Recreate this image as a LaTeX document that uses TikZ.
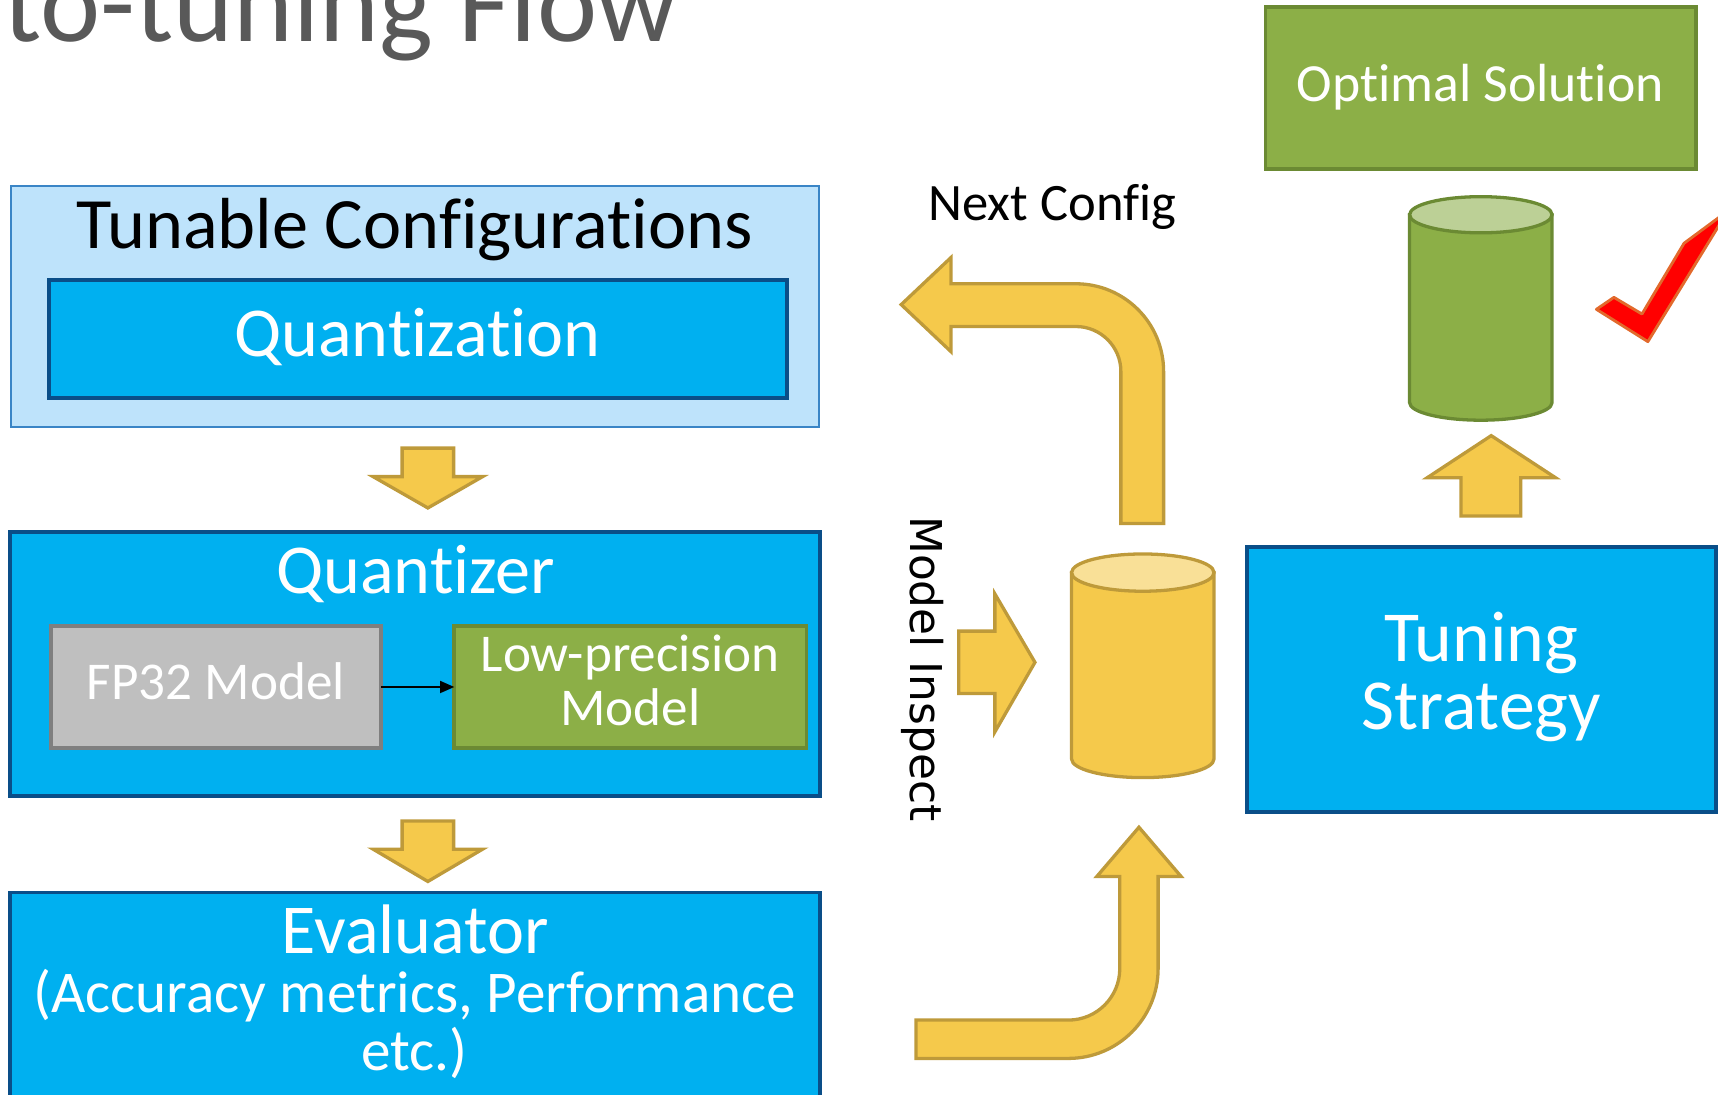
\documentclass[tikz,border=0pt]{standalone}
\usepackage{fontspec}
\setmainfont{Carlito}[Ligatures=NoCommon]
\newfontfamily\inspectfont{DejaVu Sans}
\usetikzlibrary{arrows.meta}

\definecolor{paleblue}{HTML}{BEE3FB}
\definecolor{paleedge}{HTML}{3A85C6}
\definecolor{cyanfill}{HTML}{00B0F0}
\definecolor{navyedge}{HTML}{0A4E88}
\definecolor{goldfill}{HTML}{F5C94B}
\definecolor{goldedge}{HTML}{BE9A3A}
\definecolor{goldtop}{HTML}{F9E097}
\definecolor{leaffill}{HTML}{8CAF47}
\definecolor{leafedge}{HTML}{6B8A33}
\definecolor{leaftop}{HTML}{BCD096}
\definecolor{greyfill}{HTML}{BFBFBF}
\definecolor{greyedge}{HTML}{7F7F7F}
\definecolor{checkred}{HTML}{FF0000}
\definecolor{checkedge}{HTML}{E2692C}
\definecolor{titlegray}{HTML}{595959}

\begin{document}
\begin{tikzpicture}[x=1pt,y=-1pt,
  panel/.style={rectangle, inner sep=0pt, outer sep=0pt},
  bluebox/.style={panel, fill=cyanfill, draw=navyedge, line width=3.5pt},
  greenbox/.style={panel, fill=leaffill, draw=leafedge, line width=3.5pt},
  greybox/.style={panel, fill=greyfill, draw=greyedge, line width=3.5pt},
  configbox/.style={panel, fill=paleblue, draw=paleedge, line width=1.5pt},
  blockarrow/.style={fill=goldfill, draw=goldedge, line width=3pt},
  goldcyl/.style={fill=goldfill, draw=goldedge, line width=3pt},
  leafcyl/.style={fill=leaffill, draw=leafedge, line width=3pt},
  caption/.style={anchor=base, inner sep=0pt, text=white, align=center},
  bigtext/.style={font=\fontsize{64}{70}\selectfont},
  midtext/.style={font=\fontsize{48.5}{49}\selectfont},
]
\useasboundingbox (0,0) rectangle (1568,999);
\clip (0,0) rectangle (1568,999);

% heading
\node[anchor=base west, inner sep=0pt, text=titlegray,
      font=\fontsize{104}{110}\selectfont] (heading) at (3,38) {to-tuning Flow};

% left column: configurations, quantizer, evaluator
\node[configbox, minimum width=737.5pt, minimum height=220pt] (config) at (378.75,280) {};
\node[anchor=base, inner sep=0pt, font=\fontsize{66}{70}\selectfont] (configtxt) at (378.5,226.6) {Tunable Configurations};
\node[bluebox, minimum width=673pt, minimum height=107.5pt] (quant) at (381.5,309.25) {};
\node[caption, bigtext] (quanttxt) at (381,325.5) {Quantization};

\node[bluebox, minimum width=739.5pt, minimum height=241.4pt] (quantizer) at (378.75,606.1) {};
\node[caption, bigtext] (quantizertxt) at (379.5,542) {Quantizer};
\node[greybox, minimum width=301.4pt, minimum height=112pt] (fp32) at (197.3,627) {};
\node[caption, midtext] (fp32txt) at (197,638) {FP32 Model};
\node[greenbox, minimum width=321.4pt, minimum height=112pt] (lowp) at (575.3,627) {};
\node[caption, midtext] (lowptxt) at (575.3,662) {Low-precision\\Model};
\draw[line width=1.6pt, -{Triangle[length=13pt,width=11pt]}] (fp32.east) -- (lowp.west);

\node[bluebox, minimum width=739.5pt, minimum height=195.5pt] (evaluator) at (378.75,912.25) {};
\node[caption, bigtext] (evaltxt) at (379,870.5) {Evaluator};
\node[caption, font=\fontsize{54}{53.2}\selectfont] (evalsub) at (378.5,977)
  {(Accuracy metrics, Performance\\etc.)};

% downward block arrows between the stages
\draw[blockarrow] (367,409) -- (414,409) -- (414,435) -- (440.5,435)
  -- (390.5,463.6) -- (340.5,435) -- (367,435) -- cycle;
\draw[blockarrow] (367,749.3) -- (414,749.3) -- (414,775) -- (440.5,775)
  -- (390.5,804.5) -- (340.5,775) -- (367,775) -- cycle;

% middle column: model inspection and next configuration
\node[anchor=base, inner sep=0pt, font=\fontsize{48}{50}\selectfont] (nexttxt) at (960.5,201) {Next Config};
\node[anchor=base west, inner sep=0pt, rotate=-90,
      font=\inspectfont\fontsize{40}{44}\selectfont] (inspecttxt) at (831,471) {Model Inspect};

% bent arrow leaving the history store towards the configurations
\draw[blockarrow] (1023,477.7) -- (1062,477.7) -- (1062,339)
  .. controls (1062,294.8) and (1026.2,259) .. (982,259)
  -- (868,259) -- (868,235) -- (822.5,278) -- (868,321) -- (868,298) -- (982,298)
  .. controls (1004.6,298) and (1023,316.4) .. (1023,339) -- cycle;

% bent arrow bringing evaluation results up to the history store
\draw[blockarrow] (836,931) -- (975,931)
  .. controls (1001,931) and (1022,910) .. (1022,884)
  -- (1022,800) -- (1001,800) -- (1039.5,755) -- (1078,800) -- (1057,800) -- (1057,884)
  .. controls (1057,929.3) and (1020.3,966) .. (975,966)
  -- (836,966) -- cycle;

% model inspection arrow
\draw[blockarrow] (875,576) -- (908,576) -- (908,542) -- (944.6,604.5)
  -- (908,668) -- (908,633) -- (875,633) -- cycle;

% history store (yellow cylinder)
\coordinate (store) at (1043,607);
\draw[goldcyl] (978,522.6) -- (978,692.7)
  .. controls (978,702.1) and (1007.1,709.7) .. (1043,709.7)
  .. controls (1078.9,709.7) and (1108,702.1) .. (1108,692.7)
  -- (1108,522.6) -- cycle;
\draw[goldcyl, fill=goldtop] (1043,522.6) ellipse [x radius=65, y radius=17];

% right column: tuning strategy and the optimal solution
\node[bluebox, minimum width=428pt, minimum height=242pt] (strategy) at (1352,620) {};
\node[caption, font=\fontsize{65.5}{62.5}\selectfont] (strategytxt) at (1352,666) {Tuning\\Strategy};

\draw[blockarrow] (1333.5,471) -- (1333.5,436) -- (1302.6,436) -- (1361,397.6)
  -- (1419.7,436) -- (1388,436) -- (1388,471) -- cycle;

% selected configuration (green cylinder)
\coordinate (best) at (1351.5,290);
\draw[leafcyl] (1286.5,196) -- (1286.5,367.5)
  .. controls (1286.5,376.3) and (1315.7,383.5) .. (1351.5,383.5)
  .. controls (1387.3,383.5) and (1416.5,376.3) .. (1416.5,367.5)
  -- (1416.5,196) -- cycle;
\draw[leafcyl, fill=leaftop] (1351.5,196) ellipse [x radius=65, y radius=16.5];

\node[greenbox, minimum width=393pt, minimum height=147.7pt] (optimal) at (1351.5,80.15) {};
\node[caption, font=\fontsize{49}{52}\selectfont] (optimaltxt) at (1351,92.7) {Optimal Solution};

% red tick next to the chosen configuration
\draw[fill=checkred, draw=checkedge, line width=2.6pt, line join=round]
  (1457,282.3) -- (1473,271.4) -- (1498.6,286.6) -- (1537,222)
  -- (1577,192.4) -- (1504,311.8) -- cycle;
\end{tikzpicture}
\end{document}
